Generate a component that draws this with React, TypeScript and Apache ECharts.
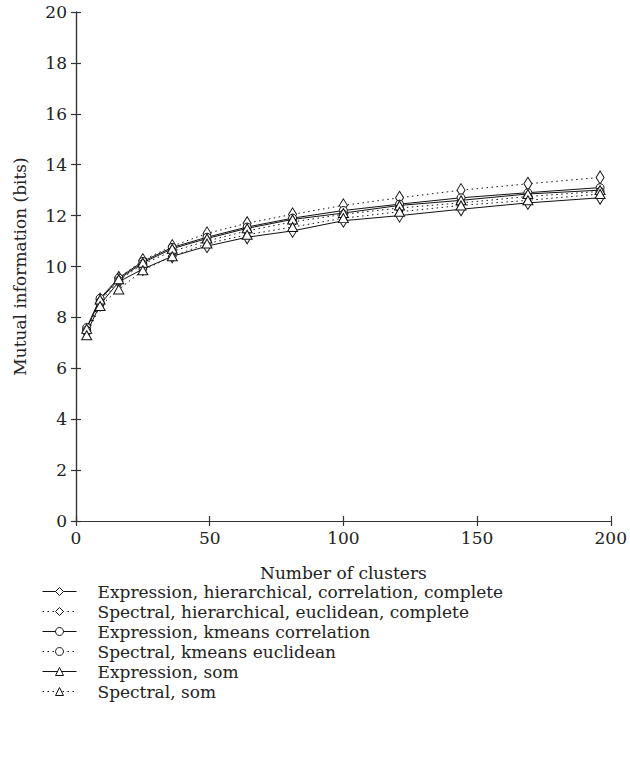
import React, { useEffect, useRef } from "react";
import * as echarts from "echarts";

const clusters = [4, 9, 16, 25, 36, 49, 64, 81, 100, 121, 144, 169, 196];
const exprHier = [7.4, 8.5, 9.4, 9.9, 10.4, 10.8, 11.15, 11.4, 11.8, 12.0, 12.25, 12.5, 12.7];
const specHier = [7.5, 8.7, 9.55, 10.25, 10.8, 11.3, 11.7, 12.05, 12.4, 12.7, 13.0, 13.25, 13.5];
const exprKmeans = [7.6, 8.75, 9.55, 10.2, 10.75, 11.15, 11.55, 11.9, 12.2, 12.45, 12.7, 12.9, 13.1];
const specKmeans = [7.5, 8.6, 9.45, 10.1, 10.6, 11.0, 11.4, 11.75, 12.05, 12.3, 12.5, 12.75, 12.95];
const exprSom = [7.55, 8.7, 9.5, 10.15, 10.7, 11.1, 11.5, 11.85, 12.1, 12.4, 12.6, 12.85, 13.0];
const specSom = [7.3, 8.45, 9.1, 9.85, 10.4, 10.9, 11.25, 11.55, 11.9, 12.15, 12.4, 12.6, 12.85];

const seriesNames = [
  "Expression, hierarchical, correlation, complete",
  "Spectral, hierarchical, euclidean, complete",
  "Expression, kmeans correlation",
  "Spectral, kmeans euclidean",
  "Expression, som",
  "Spectral, som",
];
const seriesData = [exprHier, specHier, exprKmeans, specKmeans, exprSom, specSom];
const symbols = ["diamond", "diamond", "circle", "circle", "triangle", "triangle"];
const symbolSizes: any[] = [[8, 13], [8, 13], [8, 8], [8, 8], [10, 9], [10, 9]];
const dotted = [false, true, false, true, false, true];

const FONT = "DejaVu Serif";
const FS = 17;

export default function App() {
  const ref = useRef<HTMLDivElement>(null);
  useEffect(() => {
    if (!ref.current) return;
    const chart = echarts.init(ref.current, null, { renderer: "svg" });
    const axisLine = { show: true, lineStyle: { color: "#333", width: 1.2 } };
    const tick = { show: true, inside: true, length: 5, lineStyle: { color: "#333", width: 1.2 } };
    const label = { color: "#222", fontFamily: FONT, fontSize: FS };
    chart.setOption({
      animation: false,
      backgroundColor: "#fff",
      grid: { left: 76, right: 16, top: 12, bottom: 244 },
      xAxis: [
        {
          type: "value", min: 0, max: 200, interval: 50, position: "bottom",
          axisLine, axisTick: tick, splitLine: { show: false },
          axisLabel: { ...label, margin: 8 },
          name: "Number of clusters", nameLocation: "middle", nameGap: 43,
          nameTextStyle: { color: "#222", fontFamily: FONT, fontSize: FS },
        },
        {
          type: "value", min: 0, max: 200, interval: 50, position: "top",
          axisLine, axisTick: tick, splitLine: { show: false }, axisLabel: { show: false },
        },
      ],
      yAxis: [
        {
          type: "value", min: 0, max: 20, interval: 2, position: "left",
          axisLine, axisTick: tick, splitLine: { show: false },
          axisLabel: { ...label, margin: 9 },
          name: "Mutual information (bits)", nameLocation: "middle", nameGap: 48,
          nameTextStyle: { color: "#222", fontFamily: FONT, fontSize: FS },
        },
        {
          type: "value", min: 0, max: 20, interval: 2, position: "right",
          axisLine, axisTick: tick, splitLine: { show: false }, axisLabel: { show: false },
        },
      ],
      legend: {
        orient: "vertical", left: 37, top: 578, itemWidth: 34, itemHeight: 10, itemGap: 3,
        lineStyle: { width: 1 },
        itemStyle: { borderWidth: 1 },
        textStyle: { color: "#222", fontFamily: FONT, fontSize: FS, padding: [0, 0, 0, 16] },
        data: seriesNames,
      },
      series: seriesNames.map((name, i) => ({
        name, type: "line",
        data: clusters.map((c, j) => [c, seriesData[i][j]]),
        symbol: symbols[i], symbolSize: symbolSizes[i], showAllSymbol: true,
        lineStyle: { color: "#111", width: 1, type: dotted[i] ? [1.5, 3.5] : "solid" },
        itemStyle: { color: "#fff", borderColor: "#111", borderWidth: 1 },
      })),
    });
    return () => chart.dispose();
  }, []);
  return <div ref={ref} style={{ position: "fixed", left: 0, top: 0, width: 630, height: 765 }} />;
}
